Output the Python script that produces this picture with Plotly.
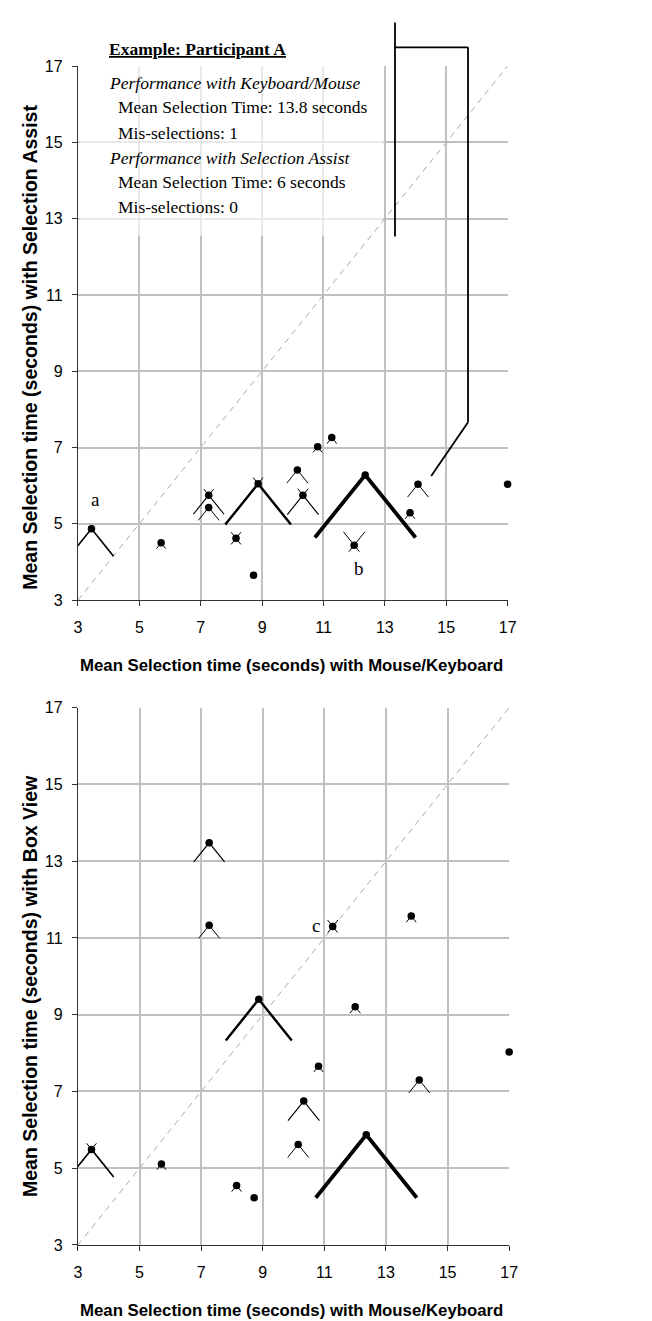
import plotly.graph_objects as go

W, H = 652, 1321

# ---------------- data ----------------
AXIS_RANGE = [3, 17]
AXIS_TICKS = [3, 5, 7, 9, 11, 13, 15, 17]
DIAGONAL = [3, 17]

# mean selection time with mouse/keyboard (x, both panels)
mk_time = [3.44, 5.71, 7.26, 7.26, 8.15, 8.72, 8.87, 10.15, 10.33, 10.81, 11.27, 12.00, 12.36, 13.82, 14.08, 17.00]
# mean selection time with Selection Assist (y, top panel)
sa_time = [4.87, 4.50, 5.75, 5.43, 4.62, 3.65, 6.05, 6.41, 5.75, 7.02, 7.26, 4.44, 6.28, 5.29, 6.04, 6.04]
# mean selection time with Box View (y, bottom panel)
bv_time = [5.49, 5.11, 13.48, 11.33, 4.55, 4.23, 9.40, 5.62, 6.75, 7.66, 11.30, 9.21, 5.87, 11.57, 7.30, 8.03]
# glyph arm lengths (mis-selections): downward arms = mouse/keyboard
mk_arm = [0.72, 0.15, 0.50, 0.34, 0.16, 0.0, 1.07, 0.34, 0.51, 0.15, 0.16, 0.17, 1.64, 0.16, 0.34, 0.0]
# upward arms = Selection Assist / Box View
sa_arm = [0.0, 0.0, 0.16, 0.0, 0.16, 0.0, 0.16, 0.0, 0.17, 0.0, 0.0, 0.35, 0.0, 0.0, 0.0, 0.0]
bv_arm = [0.16, 0.0, 0.0, 0.0, 0.0, 0.0, 0.0, 0.0, 0.0, 0.0, 0.17, 0.0, 0.0, 0.0, 0.0, 0.0]

# callout of the example (data units of the top panel)
callout_stem_x = [13.33, 13.33]
callout_stem_y = [12.53, 18.14]
callout_path_x = [13.33, 15.71, 15.71, 14.51]
callout_path_y = [17.49, 17.49, 7.66, 6.25]

example_lines = [
    ("<b><u>Example: Participant A</u></b>", 0),
    ("<i>Performance with Keyboard/Mouse</i>", 0),
    ("Mean Selection Time: 13.8 seconds", 1),
    ("Mis-selections: 1", 1),
    ("<i>Performance with Selection Assist</i>", 0),
    ("Mean Selection Time: 6 seconds", 1),
    ("Mis-selections: 0", 1),
]
example_y_px = [33.3, 68.3, 92.3, 118.3, 144.0, 168.3, 193.3]

X_TITLE = "Mean Selection time (seconds) with Mouse/Keyboard"
Y_TITLE_TOP = "Mean Selection time (seconds) with Selection Assist"
Y_TITLE_BOT = "Mean Selection time (seconds) with Box View"

# ---------------- figure ----------------
def px(xp):
    return xp / W


def py(yp):
    return 1 - yp / H


fig = go.Figure()

SANS = "Liberation Sans, Arial, sans-serif"
SERIF = "Liberation Serif, Times New Roman, serif"


def add_panel(xa, ya, yvals, uparms):
    # diagonal reference
    fig.add_trace(go.Scatter(x=DIAGONAL, y=DIAGONAL, xaxis=xa, yaxis=ya, mode="lines",
                             line=dict(color="#a8a8a8", width=1, dash="6px,5px"),
                             hoverinfo="skip", showlegend=False))
    for x, y, L, U in zip(mk_time, yvals, mk_arm, uparms):
        if L > 0:
            fig.add_trace(go.Scatter(x=[x - L, x, x + L], y=[y - L, y, y - L], xaxis=xa, yaxis=ya,
                                     mode="lines", line=dict(color="black", width=max(1.0, 2.3 * L)),
                                     hoverinfo="skip", showlegend=False))
        if U > 0:
            fig.add_trace(go.Scatter(x=[x - U, x, x + U], y=[y + U, y, y + U], xaxis=xa, yaxis=ya,
                                     mode="lines", line=dict(color="black", width=1.0),
                                     hoverinfo="skip", showlegend=False))
    fig.add_trace(go.Scatter(x=mk_time, y=yvals, xaxis=xa, yaxis=ya, mode="markers",
                             marker=dict(color="black", size=7.5), cliponaxis=False,
                             hoverinfo="skip", showlegend=False))


add_panel("x", "y", sa_time, sa_arm)
add_panel("x2", "y2", bv_time, bv_arm)

axis_common = dict(
    range=AXIS_RANGE, tickvals=AXIS_TICKS, showgrid=True, gridcolor="#c0c0c0", gridwidth=1.5,
    showline=True, linecolor="#333333", linewidth=1.3, ticks="outside", ticklen=5,
    tickcolor="#333333", tickwidth=1.3, zeroline=False, fixedrange=True,
    tickfont=dict(family=SANS, size=16, color="black"),
)

fig.update_layout(
    width=W, height=H, margin=dict(l=0, r=0, t=0, b=0),
    paper_bgcolor="white", plot_bgcolor="white", showlegend=False,
    xaxis=dict(axis_common, domain=[px(67.3), px(505.7)], anchor="y", ticklabelstandoff=8),
    yaxis=dict(axis_common, domain=[py(591.7), py(50.7)], anchor="x", ticklabelstandoff=6),
    xaxis2=dict(axis_common, domain=[px(67.3), px(507.3)], anchor="y2", ticklabelstandoff=8),
    yaxis2=dict(axis_common, domain=[py(1245), py(700.7)], anchor="x2", ticklabelstandoff=6),
)

# translucent white box behind the example text
fig.add_shape(type="rect", xref="x", yref="y", x0=3.05, x1=12.95, y0=12.55, y1=17.0,
              fillcolor="white", opacity=0.65, line=dict(width=0), layer="between")

# callout lines (unclipped: expressed as fractions of the top panel's axes)
def dom(v):
    return (v - AXIS_RANGE[0]) / (AXIS_RANGE[1] - AXIS_RANGE[0])


fig.add_shape(type="line", xref="x domain", yref="y domain",
              x0=dom(callout_stem_x[0]), y0=dom(callout_stem_y[0]),
              x1=dom(callout_stem_x[1]), y1=dom(callout_stem_y[1]),
              line=dict(color="black", width=1.8))
for i in range(len(callout_path_x) - 1):
    fig.add_shape(type="line", xref="x domain", yref="y domain",
                  x0=dom(callout_path_x[i]), y0=dom(callout_path_y[i]),
                  x1=dom(callout_path_x[i + 1]), y1=dom(callout_path_y[i + 1]),
                  line=dict(color="black", width=1.8))

# example text
for (txt, indent), yp in zip(example_lines, example_y_px):
    fig.add_annotation(xref="paper", yref="paper", x=px(96.7 if indent == 0 else 106.0), y=py(yp),
                       xanchor="left", yanchor="middle", showarrow=False, text=txt,
                       font=dict(family=SERIF, size=17.5, color="black"))

# glyph letters
for txt, x, y, xa, ya in [("a", 3.57, 5.63, "x", "y"), ("b", 12.17, 3.82, "x", "y"),
                          ("c", 10.72, 11.32, "x2", "y2")]:
    fig.add_annotation(xref=xa, yref=ya, x=x, y=y, text=txt, showarrow=False,
                       font=dict(family=SERIF, size=19, color="black"))

# axis titles
title_font = dict(family=SANS, size=16.8, color="black")
for yp in (657.7, 1311.0):
    fig.add_annotation(xref="paper", yref="paper", x=px(285.6), y=py(yp), text="<b>%s</b>" % X_TITLE,
                       showarrow=False, xanchor="center", yanchor="middle", font=title_font)
for yp, t in ((335.5, Y_TITLE_TOP), (983.0, Y_TITLE_BOT)):
    fig.add_annotation(xref="paper", yref="paper", x=px(19.0), y=py(yp), text="<b>%s</b>" % t,
                       showarrow=False, textangle=-90, xanchor="center", yanchor="middle",
                       font=dict(family=SANS, size=19.5, color="black"))

fig.write_html("out.html")
